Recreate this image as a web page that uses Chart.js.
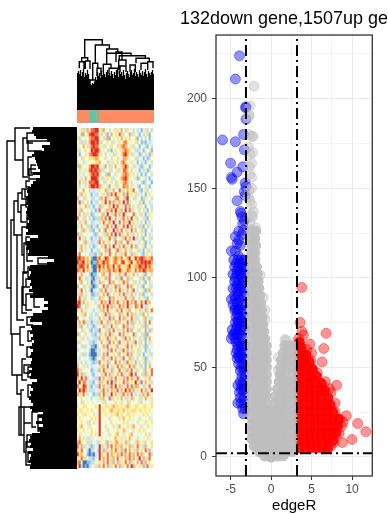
<!DOCTYPE html>
<html>
<head>
<meta charset="utf-8">
<script src="https://cdn.jsdelivr.net/npm/chart.js@4"></script>
<style>
html, body { margin: 0; padding: 0; background: #fff; overflow: hidden; }
canvas { position: absolute; }
#volcano { left: 180px; top: 0; }
#heatmap { left: 77px; top: 128px; }
#annot { left: 77px; top: 110px; }
#topTree { left: 77px; top: 37px; }
#leftTree { left: 0; top: 127px; }
</style>
</head>
<body>
<canvas id="leftTree" width="77" height="342"></canvas>
<canvas id="topTree" width="77" height="73"></canvas>
<canvas id="annot" width="77" height="13"></canvas>
<canvas id="heatmap" width="76" height="340"></canvas>
<canvas id="volcano" width="208" height="514"></canvas>
<script>
// Titulos y ejes del volcano
const tituloVolcano = '132down gene,1507up ge';
const tituloX = 'edgeR';
const xTicks = [-5, 0, 5, 10];
const yTicks = [0, 50, 100, 150, 200];
const xRejilla = [-5, -2.5, 0, 2.5, 5, 7.5, 10];
const yRejilla = [0, 25, 50, 75, 100, 125, 150, 175, 200, 225];
const cortesX = [-3.1, 3.2];
const corteY = 2;

// Puntos sueltos [x, y]
const azulSueltos = [[-3.9,224],[-4.4,211],[-3.1,195.5],[-3.15,195],[-3.1,188.6],[-3.4,180],[-6,177],[-4.4,176],[-3.3,171.5],[-5,164],[-3.5,162],[-4.2,159],[-4.9,156],[-4.8,155],[-3.2,153],[-3.1,151],[-3.3,148],[-3.2,146],[-4.2,143],[-3.8,137],[-3.7,136],[-3.6,134],[-3.3,132],[-3.5,130],[-3.4,126.6],[-4,126],[-3.6,124],[-4.4,123],[-4,121],[-4.2,119],[-3.8,118],[-4.9,115],[-4.4,115],[-4,112]];
const grisSueltos = [[-2.1,207],[-2.6,196],[-2.7,191],[-2.8,190],[-2.7,180],[-2.2,179],[-2.4,179],[-2.3,170],[-2.6,169],[-2.8,173],[-2.4,164],[-2.7,162],[-2.6,158],[-2.4,156],[-2.4,150],[-2.7,149],[-2.8,145],[-2.6,143],[-2.4,141],[-2.2,137],[-2.4,135],[-2.3,134],[-2.6,131],[-1.9,128],[-2.4,127],[-0.75,82],[-0.75,77],[-1.35,101.5],[-0.95,89],[1.7,65.5],[1.9,65],[0.9,55.5],[0.9,48.5]];
const rojoSueltos = [[3.8,94.6],[3.6,75],[3.8,70],[4,68],[6.8,69],[6.5,60.5],[4.8,63],[5,58],[6.3,53],[8.1,40],[7.9,30],[9.3,23],[8.9,19.5],[10.7,18.6],[11.7,14],[10,9.7],[8.8,8],[7.4,36],[7.9,25],[8.5,21],[8.7,17],[8.4,13],[7.8,8],[7.4,6],[6.8,5],[5.2,46],[5.7,47],[4.4,60],[3.4,66],[4.9,54],[6.7,42],[7.2,38]];

// Masas de puntos por fila: [y, [x, x, ...]]
const azulFilas = [
  [110,[-4.6,-4.1,-3.7,-3.3]],[108,[-4.3,-3.9,-3.5]],[106,[-4.5,-4,-3.4]],[104,[-4.2,-3.8,-3.3]],[102,[-4.7,-4.2,-3.8,-3.3]],
  [100,[-4.4,-3.6]],[98,[-4.5,-4,-3.4]],[96,[-4.2,-3.7]],[94,[-4.7,-4.3,-3.9,-3.5]],[92,[-4.1,-3.3]],[90,[-4.5,-4.1,-3.3]],
  [88,[-4.9,-4.4,-3.9]],[86,[-4.2,-3.6]],[85,[-4.7,-3.4]],[83,[-4.4,-4]],[82,[-4.5,-4.1,-3.7]],[80,[-4.2,-3.5]],
  [78,[-4.3,-3.9,-3.4]],[76,[-4.1,-3.7]],[75,[-4.4,-4,-3.6]],[73,[-4.2,-3.4]],[71,[-4.8,-4.3,-3.8,-3.3]],[69,[-4.5,-4]],
  [68,[-4.7,-4.2,-3.7]],[66,[-4.9,-4.4,-3.5]],[64,[-4.3,-3.9]],[62,[-4.1,-3.7,-3.3]],[60,[-4.2,-3.6]],[58,[-4.3,-3.9,-3.4]],
  [56,[-4,-3.6]],[55,[-4.2,-3.8,-3.3]],[52,[-4,-3.5]],[50,[-3.7,-3.3]],[48,[-3.8,-3.3]],[45,[-3.6,-3.2]],[42,[-3.8,-3.4]],
  [40,[-4.1,-3.6]],[38,[-3.7,-3.3]],[36,[-3.9,-3.4]],[33,[-3.8,-3.3]],[30,[-4.1,-3.7,-3.3]],[27,[-3.5,-3.2]],[24,[-3.4]]
];
const grisFilas = [
  [126,[-2.4,-1.9]],[122,[-2.4,-2]],[118,[-2.4,-1.9]],[114,[-2.4,-2]],
  [110,[-2.4,-2]],[106,[-2.4,-1.8]],[102,[-2.4,-1.7]],[98,[-2.4,-1.9,-1.6]],
  [94,[-2.4,-1.9,-1.5]],[90,[-2.4,-1.9,-1.4]],[86,[-2.4,-1.8,-1.3]],[82,[-2.4,-1.8,-1.2]],
  [78,[-2.4,-1.8,-1.2,-1.1]],[74,[-2.4,-1.8,-1.2,-1]],[70,[-2.4,-1.8,-1.2,-0.9]],[66,[-2.4,-1.8,-1.2,-0.8]],
  [62,[-2.4,-1.8,-1.2,-0.6,1.7,2.2,2.6]],[58,[-2.4,-1.8,-1.2,-0.6,1.5,2.1,2.6]],[54,[-2.4,-1.8,-1.2,-0.6,1.3,1.9,2.6]],
  [50,[-2.4,-1.8,-1.2,-0.6,1.2,1.8,2.6]],[46,[-2.4,-1.8,-1.2,-0.6,1.1,1.7,2.6]],[42,[-2.4,-1.8,-1.2,-0.6,1,1.6,2.2,2.6]],
  [38,[-2.4,-1.8,-1.2,-0.6,0.8,1.5,2.1,2.6]],[34,[-2.4,-1.8,-1.2,-0.6,0.6,1.3,2,2.6]],[30,[-2.4,-1.8,-1.2,-0.6,0.5,1.2,1.9,2.6]],
  [26,[-2.4,-1.8,-1.2,-0.6,0,0.6,1.2,1.9,2.6]],[22,[-2.4,-1.8,-1.2,-0.6,0,0.6,1.2,1.9,2.6]],[18,[-2.4,-1.8,-1.2,-0.6,0,0.6,1.2,1.9,2.6]],
  [14,[-2.4,-1.8,-1.2,-0.6,0,0.6,1.2,1.9,2.6]],[10,[-2.4,-1.8,-1.2,-0.6,0,0.6,1.2,1.9,2.6]],[6,[-2.1,-1.4,-0.7,0,0.7,1.4,2.1,2.6]],
  [3,[-1.5,-1,-0.5,0,0.5,1,1.5,2,2.6]],[0.5,[-0.8,-0.3,0.3,0.9,1.5]],[-0.2,[0]]
];
const rojoFilas = [
  [5,[3.5,4.2,4.9,5.6,6.3,7]],[9,[3.4,4.1,4.8,5.5,6.2,6.9,7.6]],[13,[3.4,4.1,4.8,5.5,6.2,6.9,7.6,8]],
  [17,[3.4,4.1,4.8,5.5,6.2,6.9,7.6,8.2]],[21,[3.4,4.1,4.8,5.5,6.2,6.9,7.6,8.3]],[25,[3.4,4.1,4.8,5.5,6.2,6.9,7.6]],
  [29,[3.4,4.1,4.8,5.5,6.2,6.9,7.3]],[33,[3.4,4.1,4.8,5.5,6.2,7]],[37,[3.4,4.1,4.8,5.5,6.2,6.6]],
  [41,[3.4,4.1,4.8,5.5,6.2]],[45,[3.4,4.1,4.8,5.6]],[49,[3.4,4.1,4.8,5.1]],[53,[3.4,4.1,4.7]],
  [57,[3.4,3.9,4.3]],[61,[3.4,3.7]],[64,[3.5]]
];

// Heatmap: una cadena por fila, cada digito es un nivel de la paleta
const paletaHeatmap = ['#4575b4','#91bfdb','#c5dfec','#e0f3f8','#ffffbf','#fee090','#fdae61','#f46d43','#d73027'];
const filasHeatmap = [
'4352563778 8456342435 5364254324 23135242','3461457887 7423513645 4725436253 31423514',
'5234346778 8345261434 5463542445 13242413','4525236887 8524354253 3546754345 24121323',
'3346425787 7435243544 2567643523 41332142','5243544878 8643425135 4356765432 22413431',
'4134536788 7354243425 3457864254 31242315','3425445556 6443534244 5336653442 23413124',
'5342334445 5634425354 2467543534 14231342','2654346887 8435142536 4356864325 32124413',
'4233547878 7625345243 5247754243 41323124','3542435787 8534261435 3456765354 23141342',
'5324634888 7425354523 4367864435 12432313','4635247778 8345243542 5456753243 34212431',
'3243536887 8623451435 2347664534 21342314','5436442323 3544625364 3752464573 42135243',
'4263543132 2435362748 4536274542 53241354','6342534223 3264725436 7542683425 34125342',
'3725424132 2453847265 3648275343 42513423','4534652313 3625436482 7453726354 25341432',
'5263434231 2743562748 5264837254 32453142','3642553123 3426384527 4638254372 45231354',
'7435242312 2564738246 3527463845 24352143','4253634223 3247456382 4736528453 53241324',
'5364325132 1435274638 2547382635 32514253','3426542213 3642735482 6374254736 43251342',
'6253434321 2435264738 3725463524 24531423','4735243132 3624537426 4352746382 53214352',
'5342653223 2746352437 5264372543 32451324','3564242312 3425736482 3647253746 24351432',
'4263534133 2543627345 7254635243 52314253','5734342221 3264537246 3525743625 34213542',
'7867564100 6745875467 6574568458 67876567','8678465011 7568675467 5478456845 76878786',
'6787574100 6857476584 6745568456 68768675','7658465200 5746567476 5864576547 57687566',
'5463342011 3426537245 3642735463 24351342','3754253102 2534627342 5273462534 42513264',
'4263424012 3625437264 3547263452 32451423','6342535101 2437263547 2635472634 53214352',
'3574242023 3264735246 4725364273 24351264','5263534112 2546372453 3647253642 42513342',
'4735243223 3625437264 5324735264 32452143','7846354342 3475638264 7536485627 53748264',
'8734253434 2647385625 4756385247 64832534','5463534323 3526473542 6374526345 42536247',
'4352643242 2435726354 3625473652 35264234','7435342233 3642537263 4736254732 53426352',
'3647253123 2574362546 2635473625 42351473','5263423212 3346253742 5437263524 34526243',
'3425342132 2734526374 2536472634 52341362','6243534221 3253647253 4726354372 34526134',
'4352423322 2645372546 3452736425 42351364','2534342212 3364527364 2735463527 35241423',
'3425233110 2436273542 6354273645 42351243','2343342001 3245362746 3527463254 25341324',
'4352231000 2536274354 2645372634 52413352','3243342101 3426352746 3527346253 24351243',
'5324233212 2745362437 4635274536 32451324','6435324233 3526473254 7362547362 45231463',
'7253443123 2647253624 3745263742 53426347','8362534213 3425736254 6372546837 34526247',
'6483723322 2736452637 4536274653 72435364','5847632213 3625473826 3547263548 52736452',
'7358742132 2746352748 4625374726 63425374','4868632223 3527463652 7364857263 54736248',
'6537424312 2647253846 3527463742 35264753','4354343243 3526437254 5364253624 42536345',
'3425434334 3435243435 4353425434 35243435','5445544445 4844554565 5454565445 54455445',
'4554454534 4845445654 5546454555 45545454','5435543453 3844534545 6454355454 44354543',
'4543443545 4843435344 3546445434 35343453','3454352453 3834343543 4345354334 53435345',
'4563435344 3834534353 5643453563 43534534','5345434543 4834353434 5346534354 35453443',
'4534343545 3843435345 6435345634 34345353','3645352334 3454343436 4353546343 53434534',
'6754325243 2534263546 6454625435 63452435','7362532123 3825362746 5264536254 73526345',
'6473420224 2836253647 5362746352 64537263','8564310102 3825473654 6572637564 72654372',
'5475532213 3846375264 7354657263 58365274','6730011224 3546375263 6254736254 63726354',
'5820102335 2647362547 3625473862 45362735'
];

// Barra de anotacion de columnas
const anchosAnot = [12, 7, 1, 2, 55];
const coloresAnot = ['#fc8d62', '#66c2a5', '#fc8d62', '#66c2a5', '#fc8d62'];

// Dendrograma superior: altura de cada hoja y nodos [xIzq, xDer, alto, bajaIzq, bajaDer]
const hojasArriba = [37,39,36,40,34,38,41,33,37,35,40,36,31,26,25,27,26,28,33,30,38,34,37,32,39,35,38,36,33,38,40,35,37,34,39,36,32,38,35,40,37,33,39,36,38,34,40,35,31,37,39,36,33,38,40,35,37,41,34,38,36,33,40,37,35,39,34,38,41,36,33,39,37,35,38,40,36];
const nodosArriba = [
  [7.7,25.3,70.3,52.3,65],[4.7,10.7,52.3,48.3,49],[2.3,7,48.3,41.7,41],[8.3,13,49,41,41],
  [18.3,32.3,65,46.7,61],[15.7,20.7,46.7,30,41.7],[13,18.3,30,25.7,25.7],[20,24,41.7,34,34],
  [29.7,40.7,61,56.7,58],[29.7,54,56.7,45.7,54.3],[42.3,68.3,54.3,50,51.7],[41.7,49,50,40,40],
  [59,72.3,51.7,46.7,48.3],[26.3,34,45.7,38,41.7],[53,58.3,45,38,38],[64,70.7,46.7,40,40],
  [70.7,76,48.3,41.7,41.7],[43,49,44,38,38],[32,40.7,41.7,36,36],[39,45,58,48,50]
];

// Dendrograma izquierdo: inicio de cada hoja (cada 3 px) y nodos [x, yArriba, yAbajo, finArriba, finAbajo]
const hojasIzquierda = [33,32,34,36,47,50,42,44,34,32,35,36,37,38,40,33,40,36,33,31,28,27,28,26,27,26,28,27,26,28,27,29,27,26,28,26,38,30,26,27,26,29,28,48,54,47,30,29,31,30,28,31,30,32,29,33,30,44,48,44,48,42,33,31,30,42,31,32,30,33,31,34,32,30,33,31,30,32,31,30,32,29,31,30,37,32,31,33,30,31,29,31,33,30,32,43,38,42,36,43,38,40,32,30,29,31,30,33,28,31,30,29,31,30];
const nodosIzquierda = [
  [7,14,161,15,11],[15,1,33,30,23],[23,11,50,27,28],[27,6,16,34,33],[28,14,24,48,42],
  [28,30,48,32,33],[31,38,46,36,36],[29,42,52,36,36],[11,93,207,14,12],[14,74,108,18,17],
  [18,66,85,22,21],[22,62,72,27,27],[21,78,95,26,26],[17,108,193,22,24],[22,100,128,26,24],
  [24,116,146,27,27],[23,145,178,28,26],[22,160,186,27,27],[26,167,183,33,32],[34,168,180,42,40],
  [20,200,218,25,24],[12,207,248,20,17],[17,248,267,22,21],[21,263,308,24,19],[19,280,308,24,24],
  [24,280,296,31,31],[24,296,325,30,26],[26,315,338,31,31],[22,232,253,26,27],[24,238,246,32,30],
  [32,285,300,38,36],[38,288,304,44,42],[38,131,137,55,52],[26,54,60,30,30],[25,62,70,31,30],
  [26,72,80,30,30],[27,88,98,31,32],[26,110,118,30,32],[27,120,134,32,33],[28,140,150,34,33],
  [26,152,160,32,30],[27,190,198,32,33],[28,204,214,34,32],[27,220,230,33,31],[28,240,250,33,34],
  [28,258,270,36,33],[27,308,320,32,30],[28,325,335,33,31]
];

Chart.defaults.animation = false;
Chart.defaults.responsive = false;
Chart.defaults.plugins.legend.display = false;
Chart.defaults.plugins.tooltip.enabled = false;

function filasAPuntos(filas) {
  return filas.flatMap(fila => fila[1].map(x => ({ x: x, y: fila[0] })));
}
function paresAPuntos(pares) {
  return pares.map(p => ({ x: p[0], y: p[1] }));
}
function capaPuntos(puntos, color) {
  return { data: puntos, backgroundColor: color, borderColor: color, pointRadius: 5, pointBorderWidth: 1 };
}
function capaLinea(puntos, dash, ancho) {
  return { data: puntos, showLine: true, pointRadius: 0, borderColor: '#000', borderWidth: ancho, borderDash: dash || [], borderCapStyle: 'butt' };
}
function ejeOculto(min, max, extra) {
  return Object.assign({ type: 'linear', display: false, min: min, max: max }, extra || {});
}

// Volcano
const lineasCorte = cortesX.map(v => capaLinea([{ x: v, y: -10.7 }, { x: v, y: 235.6 }], [11, 4, 2, 4], 2));
lineasCorte.push(capaLinea([{ x: -6.8, y: corteY }, { x: 12.5, y: corteY }], [11, 4, 2, 4], 2));

const bordePanel = {
  id: 'bordePanel',
  afterDraw(chart) {
    const a = chart.chartArea;
    chart.ctx.save();
    chart.ctx.strokeStyle = '#333';
    chart.ctx.lineWidth = 1.3;
    chart.ctx.strokeRect(a.left, a.top, a.right - a.left, a.bottom - a.top);
    chart.ctx.restore();
  }
};

// El gris va encima del azul y del rojo, como en el original
new Chart(document.getElementById('volcano'), {
  type: 'scatter',
  plugins: [bordePanel],
  data: {
    datasets: lineasCorte.concat([
      capaPuntos(paresAPuntos(grisSueltos), 'rgba(190,190,190,0.45)'),
      capaPuntos(filasAPuntos(grisFilas), 'rgba(190,190,190,0.92)'),
      capaPuntos(paresAPuntos(rojoSueltos), 'rgba(255,0,0,0.42)'),
      capaPuntos(filasAPuntos(rojoFilas), 'rgba(255,0,0,0.9)'),
      capaPuntos(paresAPuntos(azulSueltos), 'rgba(0,0,255,0.42)'),
      capaPuntos(filasAPuntos(azulFilas), 'rgba(0,0,255,0.45)')
    ])
  },
  options: {
    plugins: {
      title: {
        display: true, text: tituloVolcano, align: 'start', color: '#000',
        font: { family: 'Liberation Sans', size: 18.6, weight: 'normal' },
        padding: { top: 8, bottom: 4.7 }
      }
    },
    scales: {
      x: {
        type: 'linear', min: -6.8, max: 12.5,
        afterBuildTicks(eje) { eje.ticks = xRejilla.map(v => ({ value: v })); },
        afterFit(eje) { eje.height = 38; },
        ticks: {
          maxRotation: 0, autoSkip: false, padding: 2, color: '#4d4d4d',
          font: { family: 'Liberation Sans', size: 12 },
          callback: v => xTicks.includes(v) ? String(v) : ''
        },
        grid: {
          color: '#ebebeb', tickLength: 4,
          lineWidth: c => xTicks.includes(c.tick.value) ? 1 : 0.6,
          tickColor: c => xTicks.includes(c.tick.value) ? '#333' : 'rgba(0,0,0,0)'
        },
        border: { display: false },
        title: { display: true, text: tituloX, color: '#000', padding: { top: 0, bottom: -1 }, font: { family: 'Liberation Sans', size: 15 } }
      },
      y: {
        type: 'linear', min: -10.7, max: 235.6,
        afterBuildTicks(eje) { eje.ticks = yRejilla.map(v => ({ value: v })); },
        afterFit(eje) { eje.width = 36; },
        ticks: {
          autoSkip: false, padding: 5, color: '#4d4d4d',
          font: { family: 'Liberation Sans', size: 12 },
          callback: v => yTicks.includes(v) ? String(v) : ''
        },
        grid: {
          color: '#ebebeb', tickLength: 4,
          lineWidth: c => yTicks.includes(c.tick.value) ? 1 : 0.6,
          tickColor: c => yTicks.includes(c.tick.value) ? '#333' : 'rgba(0,0,0,0)'
        },
        border: { display: false }
      },
      // eje vacio a la derecha: deja el margen sin apretar el titulo
      margen: {
        type: 'linear', position: 'right', display: true,
        afterFit(eje) { eje.width = 15.7; },
        ticks: { display: false },
        grid: { display: false },
        border: { display: false }
      }
    }
  }
});

// Heatmap como barras apiladas: cada fila es un dataset
const celdas = filasHeatmap.map(f => f.replace(/ /g, '').split('').map(Number));
new Chart(document.getElementById('heatmap'), {
  type: 'bar',
  data: {
    labels: celdas[0].map((_, i) => i),
    datasets: celdas.map(fila => ({
      data: fila.map(() => 1),
      backgroundColor: fila.map(n => paletaHeatmap[n]),
      borderWidth: 0,
      barPercentage: 1,
      categoryPercentage: 1
    }))
  },
  options: {
    scales: {
      x: { display: false, stacked: true },
      y: ejeOculto(0, celdas.length, { stacked: true, reverse: true })
    }
  }
});

// Barra de anotacion
new Chart(document.getElementById('annot'), {
  type: 'bar',
  data: {
    labels: [''],
    datasets: anchosAnot.map((w, i) => ({
      data: [w], backgroundColor: coloresAnot[i], borderWidth: 0, barPercentage: 1, categoryPercentage: 1
    }))
  },
  options: {
    indexAxis: 'y',
    scales: {
      x: ejeOculto(0, 77, { stacked: true }),
      y: { display: false, stacked: true }
    }
  }
});

// Dendrograma superior
const hueco = { x: null, y: null };
const trazosArriba = nodosArriba.flatMap(n => [
  { x: n[0], y: n[3] }, { x: n[0], y: n[2] }, { x: n[1], y: n[2] }, { x: n[1], y: n[4] }, hueco
]);
const hojasTop = hojasArriba.flatMap((h, i) => [{ x: i + 0.5, y: h }, { x: i + 0.5, y: 0 }, hueco]);
new Chart(document.getElementById('topTree'), {
  type: 'scatter',
  data: { datasets: [capaLinea(trazosArriba, null, 1.4), capaLinea(hojasTop, null, 1.3)] },
  options: { scales: { x: ejeOculto(0, 77), y: ejeOculto(0, 73) } }
});

// Dendrograma izquierdo
const trazosIzquierda = nodosIzquierda.flatMap(n => [
  { x: n[3], y: n[1] }, { x: n[0], y: n[1] }, { x: n[0], y: n[2] }, { x: n[4], y: n[2] }, hueco
]);
const hojasLeft = hojasIzquierda.flatMap((d, i) => [{ x: d, y: i * 3 + 1.5 }, { x: 77, y: i * 3 + 1.5 }, hueco]);
new Chart(document.getElementById('leftTree'), {
  type: 'scatter',
  data: { datasets: [capaLinea(trazosIzquierda, null, 1.4), capaLinea(hojasLeft, null, 3.1)] },
  options: { scales: { x: ejeOculto(0, 77), y: ejeOculto(0, 342, { reverse: true }) } }
});
</script>
</body>
</html>
